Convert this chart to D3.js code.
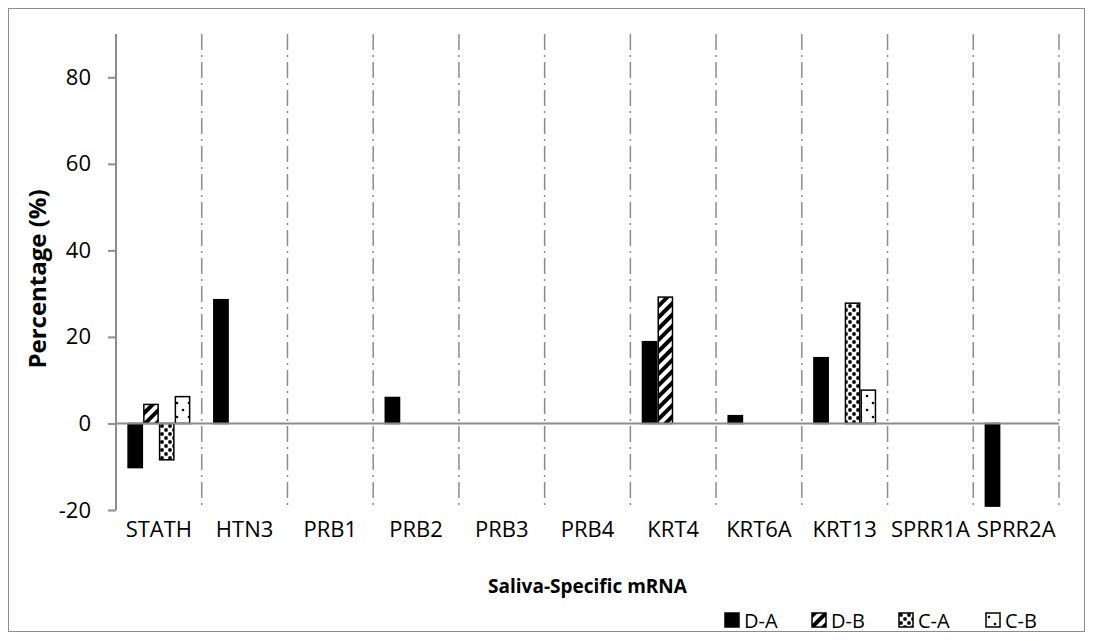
<!DOCTYPE html>
<html><head><meta charset="utf-8">
<script src="https://cdn.jsdelivr.net/npm/d3@7"></script>
<style>body{margin:0;background:#fff}svg{display:block}text{font-family:"Open Sans",sans-serif}</style>
</head><body><svg id="c" width="1094" height="641"></svg>
<script>
const categories = ["STATH","HTN3","PRB1","PRB2","PRB3","PRB4","KRT4","KRT6A","KRT13","SPRR1A","SPRR2A"];
const seriesNames = ["D-A","D-B","C-A","C-B"];
const DA = [-10.2, 28.6, 0, 6.0, 0, 0, 18.9, 1.8, 15.2, 0, -19.1];
const DB = [4.4, 0, 0, 0, 0, 0, 29.2, 0, 0, 0, 0];
const CA = [-8.4, 0, 0, 0, 0, 0, 0, 0, 27.8, 0, 0];
const CB = [6.2, 0, 0, 0, 0, 0, 0, 0, 7.7, 0, 0];
const yTicks = [-20, 0, 20, 40, 60, 80];
const yDomain = [-20, 90];

const seriesVals = [DA, DB, CA, CB];
const svg = d3.select("#c");
const L = 116, R = 1059, T = 34, B = 510;

const defs = svg.append("defs");
const p1 = defs.append("pattern").attr("id","pDB").attr("patternUnits","userSpaceOnUse")
  .attr("width",8).attr("height",8).attr("patternTransform","rotate(45)");
p1.append("rect").attr("width",8).attr("height",8).attr("fill","#fff");
p1.append("rect").attr("width",4).attr("height",8).attr("fill","#000");
const p2 = defs.append("pattern").attr("id","pCA").attr("patternUnits","userSpaceOnUse")
  .attr("width",8).attr("height",8);
p2.append("rect").attr("width",8).attr("height",8).attr("fill","#fff");
p2.append("rect").attr("x",0.3).attr("y",0.3).attr("width",3.4).attr("height",3.4).attr("rx",0.8).attr("fill","#000");
p2.append("rect").attr("x",4.3).attr("y",4.3).attr("width",3.4).attr("height",3.4).attr("rx",0.8).attr("fill","#000");
const p3 = defs.append("pattern").attr("id","pCB").attr("patternUnits","userSpaceOnUse")
  .attr("width",12).attr("height",14);
p3.append("rect").attr("width",12).attr("height",14).attr("fill","#fff");
p3.append("circle").attr("cx",3).attr("cy",4).attr("r",1.3).attr("fill","#000");
p3.append("circle").attr("cx",9).attr("cy",11).attr("r",1.3).attr("fill","#000");
const fills = ["#000","url(#pDB)","url(#pCA)","url(#pCB)"];

svg.append("rect").attr("x",8.5).attr("y",8.5).attr("width",1076).attr("height",623)
  .attr("fill","none").attr("stroke","#8c8c8c").attr("stroke-width",1);

const x = d3.scaleBand().domain(categories).range([L,R]).paddingInner(0).paddingOuter(0);
const xs = d3.scaleBand().domain(seriesNames).range([0, x.bandwidth()]).paddingOuter(0.72).paddingInner(0);
const y = d3.scaleLinear().domain(yDomain).range([B,T]);

svg.append("g").selectAll("line").data(categories).join("line")
  .attr("x1",d=>x(d)+x.bandwidth()).attr("x2",d=>x(d)+x.bandwidth())
  .attr("y1",T).attr("y2",B)
  .attr("stroke","#8c8c8c").attr("stroke-width",1.5).attr("stroke-dasharray","16,5,2,5");

const bars = [];
categories.forEach((c,i)=>seriesNames.forEach((s,j)=>bars.push({c,s,j,v:seriesVals[j][i]})));
svg.append("g").selectAll("rect").data(bars.filter(d=>d.v!==0)).join("rect")
  .attr("x",d=>x(d.c)+xs(d.s)+0.75)
  .attr("width",xs.bandwidth()-1.5)
  .attr("y",d=>y(Math.max(0,d.v)))
  .attr("height",d=>Math.abs(y(d.v)-y(0)))
  .attr("fill",d=>fills[d.j]).attr("stroke","#000").attr("stroke-width",1.5);

svg.append("line").attr("x1",L).attr("x2",R).attr("y1",y(0)).attr("y2",y(0))
  .attr("stroke","#8c8c8c").attr("stroke-width",2);

const ya = svg.append("g").attr("transform",`translate(${L},0)`)
  .call(d3.axisLeft(y).tickValues(yTicks).tickFormat(d=>String(d)).tickSize(8).tickPadding(17));
ya.select(".domain").remove();
ya.append("line").attr("x1",0).attr("x2",0).attr("y1",T).attr("y2",B).attr("stroke","#8c8c8c").attr("stroke-width",2);
ya.selectAll(".tick line").attr("stroke","#8c8c8c").attr("stroke-width",2);
ya.selectAll(".tick text").attr("font-size",22).attr("fill","#000").attr("font-family","Open Sans");

svg.append("g").selectAll("text").data(categories).join("text")
  .attr("x",d=>x(d)+x.bandwidth()/2).attr("y",537)
  .attr("text-anchor","middle").attr("font-size",22).attr("fill","#000").text(d=>d);

svg.append("text").attr("transform",`translate(46,${(T+B)/2+7}) rotate(-90)`)
  .attr("text-anchor","middle").attr("font-size",24).attr("font-weight","bold").text("Percentage (%)");
svg.append("text").attr("x",(L+R)/2).attr("y",593).attr("text-anchor","middle")
  .attr("font-size",19).attr("font-weight","bold").text("Saliva-Specific mRNA");

const lx = [725, 812, 899, 986];
const lg = svg.append("g").selectAll("g").data(seriesNames).join("g")
  .attr("transform",(d,i)=>`translate(${lx[i]},613)`);
lg.append("rect").attr("width",14).attr("height",14).attr("fill",(d,i)=>fills[i])
  .attr("stroke","#000").attr("stroke-width",1.5);
lg.append("text").attr("x",19).attr("y",15).attr("font-size",20).text(d=>d);
</script></body></html>
